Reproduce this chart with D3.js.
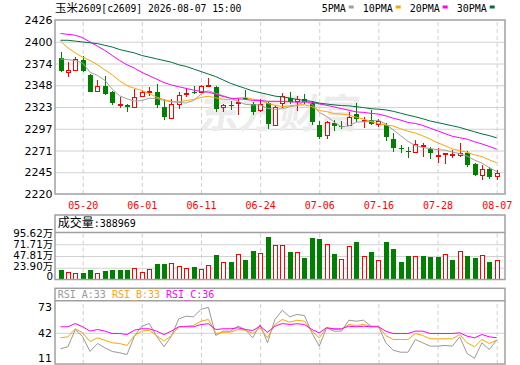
<!DOCTYPE html>
<meta charset="utf-8">
<style>
  body {
    margin: 0;
    background: #fff;
    overflow: hidden;
  }
  .mono {
    font-family: "DejaVu Sans Mono", "Noto Sans CJK SC", monospace;
    font-size: 10px;
  }
  .axis text {
    font-family: "DejaVu Sans", "Noto Sans CJK SC", sans-serif;
    font-size: 11px;
    fill: #000;
  }
  .axis.vol text {
    font-size: 10.3px;
  }
  .axis path, .grid path, .vgrid path {
    display: none;
  }
  .grid line {
    stroke: #d2d2d2;
  }
  .vgrid line {
    stroke: #cfcfcf;
    stroke-dasharray: 4, 3;
  }
  .frame {
    fill: none;
    stroke: #a0a0a0;
    stroke-width: 1.5;
  }
</style>
<body>
</body>
<script src="https://cdn.jsdelivr.net/npm/d3@7"></script>
<script>

// trading days shown on the chart
var dates = ["05-15","05-18","05-19","05-20","05-21","05-22","05-25","05-26","05-27","05-28","05-29",
  "06-01","06-02","06-03","06-04","06-05","06-08","06-09","06-10","06-11","06-12","06-15","06-16","06-17","06-18",
  "06-22","06-23","06-24","06-25","06-26","06-29","06-30",
  "07-01","07-02","07-03","07-06","07-07","07-08","07-09","07-10","07-13","07-14","07-15","07-16","07-17",
  "07-20","07-21","07-22","07-23","07-24","07-27","07-28","07-29","07-30","07-31",
  "08-03","08-04","08-05","08-06","08-07"];

var open  = [2381,2364,2367,2379,2361,2342,2348,2341,2325,2325,2323,2336,2341,2341,2323,2310,2326,2338,2341,2341,
             2348,2347,2323,2325,2328,2334,2327,2320,2328,2302,2328,2334,2330,2332,2328,2302,2290,2304,2301,2302,
             2315,2307,2308,2303,2302,2285,2274,2271,2270,2277,2273,2265,2267,2266,2266,2269,2255,2243,2250,2241];
var high  = [2388,2376,2382,2383,2362,2355,2360,2342,2335,2326,2344,2343,2347,2350,2332,2332,2341,2346,2348,2349,
             2357,2348,2327,2330,2333,2343,2329,2333,2329,2325,2340,2341,2336,2338,2330,2307,2307,2308,2307,2317,
             2328,2311,2319,2309,2304,2292,2278,2276,2284,2280,2276,2275,2269,2272,2280,2271,2257,2254,2252,2249];
var low   = [2364,2359,2366,2365,2341,2341,2337,2325,2322,2317,2322,2335,2336,2322,2308,2309,2321,2335,2338,2340,
             2347,2317,2317,2319,2313,2331,2313,2317,2297,2301,2322,2327,2318,2327,2302,2285,2285,2294,2297,2301,
             2305,2298,2302,2299,2283,2270,2269,2263,2269,2264,2262,2257,2256,2263,2264,2252,2241,2236,2238,2236];
var close = [2366,2367,2380,2366,2341,2348,2338,2328,2326,2323,2335,2341,2342,2325,2311,2327,2337,2339,2339,2348,
             2349,2321,2325,2324,2329,2332,2317,2326,2303,2323,2336,2329,2333,2329,2305,2287,2305,2300,2300,2311,
             2309,2308,2303,2306,2288,2275,2273,2270,2279,2278,2269,2266,2268,2267,2269,2254,2243,2250,2240,2245];

var ma5  = [2380,2379,2378,2375,2364.0,2360.4,2354.6,2344.2,2336.2,2332.6,2330.0,2330.6,2333.4,2333.2,2330.8,
            2329.2,2328.4,2327.8,2330.6,2338.0,2342.4,2339.2,2336.4,2333.4,2329.6,2326.2,2325.4,2325.6,2321.4,2320.2,
            2321.0,2323.4,2324.8,2330.0,2326.4,2316.6,2311.8,2305.2,2299.4,2300.6,2305.0,2305.6,2306.2,2307.4,2302.8,
            2296.0,2289.0,2282.4,2277.0,2275.0,2273.8,2272.4,2272.0,2269.6,2267.8,2264.8,2260.2,2256.6,2251.2,2246.4];
var ma10 = [2401,2393,2387,2382,2378,2373,2367,2361,2354,2348.3,2345.2,2342.6,2338.8,2334.7,2331.7,
            2329.6,2329.5,2330.6,2331.9,2334.4,2335.8,2333.8,2332.1,2332.0,2333.8,2334.3,2332.3,2331.0,2327.4,2324.9,
            2323.6,2324.4,2325.2,2325.7,2323.3,2318.8,2317.6,2315.0,2314.7,2313.5,2310.8,2308.7,2305.7,2303.4,2301.7,
            2300.5,2297.3,2294.3,2292.2,2288.9,2284.9,2280.7,2277.2,2273.3,2271.4,2269.3,2266.3,2264.3,2260.4,2257.1];
var ma20 = [2410,2409,2408,2405,2400,2395,2390,2384,2378,2373,2369,2364,2360,2356,2352,
            2349,2347,2345,2343,2341.4,2340.5,2338.2,2335.5,2333.4,2332.8,2332.0,2330.9,2330.8,2329.7,2329.7,
            2329.7,2329.1,2328.7,2328.9,2328.6,2326.6,2325.0,2323.0,2321.1,2319.2,2317.2,2316.6,2315.5,2314.6,2312.5,
            2309.7,2307.5,2304.7,2303.5,2301.2,2297.9,2294.7,2291.5,2288.4,2286.6,2284.9,2281.8,2279.3,2276.3,2273.0];
var ma30 = [2402,2402,2401,2400,2399,2398,2396,2394,2391,2389,2387,2384,2382,2380,2378,
            2376,2373,2371,2368,2365,2362,2359,2355,2351,2348,2345,2342,2340,2338,2335.9,
            2334.9,2333.6,2332.0,2330.8,2329.6,2327.6,2326.5,2325.5,2324.7,2324.3,2323.4,2322.3,2321.0,2320.4,2319.6,
            2317.9,2315.7,2313.4,2311.4,2309.1,2306.4,2304.6,2302.7,2300.8,2298.8,2296.2,2293.7,2291.2,2289.1,2286.5];

// volume in 万, and whether the bar is drawn as an "up" (red) bar
var volume = [19.9,15.3,13.3,13.3,19.3,13.3,17.3,19.3,19.3,19.3,23.2,15.9,21.2,31.9,31.9,33.2,27.9,23.2,25.9,21.2,
              29.9,49.8,35.2,35.9,51.1,39.8,57.8,53.1,86.3,71.0,71.0,55.8,55.1,44.5,83.7,81.7,73.0,51.8,41.2,67.7,
              75.7,47.8,55.8,39.8,75.7,61.8,35.9,47.8,47.8,47.8,45.8,45.8,51.8,39.8,57.8,47.8,43.8,49.8,35.9,38.8969];
var volUp = [0,1,1,0,0,1,0,0,0,0,1,1,1,0,0,1,1,1,0,1,
             1,0,1,0,1,0,0,1,0,1,1,0,1,0,0,0,1,0,1,1,
             0,1,0,1,0,0,0,0,1,0,0,0,1,0,1,0,0,1,0,1];

var rsiA = [22.6,25.0,46.0,37.1,19.3,29.0,23.8,19.3,17.7,15.6,37.9,50.0,53.3,37.9,25.0,37.9,59.0,62.2,61.4,70.5,
            73.0,38.7,44.0,44.0,50.0,46.0,35.9,52.1,29.8,58.2,69.5,61.4,64.3,63.0,42.0,25.8,48.1,44.0,44.0,57.3,
            56.1,57.3,50.0,50.0,29.8,20.9,18.4,18.4,33.9,29.8,25.8,25.8,26.6,25.8,37.1,16.8,11.0,29.8,21.7,33];
var rsiB = [35.9,37.1,46.9,42.0,31.4,35.9,33.0,29.8,29.0,26.6,38.7,44.0,45.2,38.7,31.8,38.7,49.3,50.0,50.9,56.1,
            58.2,41.1,42.7,42.7,46.0,45.2,41.1,48.1,35.9,52.1,58.2,54.9,57.3,56.1,44.0,35.9,48.1,46.0,46.0,52.1,
            50.9,52.1,50.0,49.3,38.7,33.9,33.9,33.9,41.1,38.7,34.7,34.7,34.7,34.7,39.9,29.8,25.0,33.9,29.0,33];
var rsiC = [49.3,49.3,53.3,49.3,44.0,46.0,44.0,41.1,41.1,39.9,45.2,46.9,46.9,44.0,39.9,44.0,49.3,49.3,49.3,52.1,
            53.0,46.0,46.9,46.9,48.1,46.0,44.8,50.0,42.7,50.0,53.3,52.1,53.0,52.1,46.0,42.0,48.1,46.9,46.9,50.0,
            49.3,50.0,49.3,49.3,44.0,41.1,41.1,41.1,44.0,44.0,41.1,41.1,41.1,41.1,42.0,37.9,35.9,39.9,37.1,36];

var dateTicks = ["05-20","06-01","06-11","06-24","07-06","07-16","07-28","08-07"];
var priceTicks = [2426,2400.25,2374.5,2348.75,2323,2297.25,2271.5,2245.75,2220];
var priceLabels = ["2426","2400","2374","2348","2323","2297","2271","2245","2220"];
var volTicks = [95.62,71.71,47.81,23.90,0];
var volLabels = ["95.62万","71.71万","47.81万","23.90万","0"];
var rsiTicks = [73,42,11];
var legendNames = ["5PMA","10PMA","20PMA","30PMA"];

var colors = {
  up: "#ff0000",
  down: "#008000",
  ma5: "#a0a0a0",
  ma10: "#ffa500",
  ma20: "#ff00ff",
  ma30: "#00703c",
  rsiA: "#999999",
  rsiB: "#ffa500",
  rsiC: "#ff00ff"
};

var width = 520, height = 365,
    left = 55, right = 505;
var pricePanel = {top: 20, bottom: 194},
    volPanel = {top: 215, head: 232.5, bottom: 279.5},
    rsiPanel = {top: 288.3, head: 300.7, bottom: 364};

var svg = d3.select("body").append("svg")
    .attr("width", width)
    .attr("height", height);

var x = d3.scalePoint().domain(dates).range([60.5, 496.7]);
var yPrice = d3.scaleLinear().domain([2220, 2426]).range([pricePanel.bottom, pricePanel.top]);
var yVol = d3.scaleLinear().domain([0, 95.62]).range([volPanel.bottom, volPanel.head]);
var yVolLabel = d3.scaleLinear().domain([0, 95.62]).range([276.7, 233.2]);
var yRsi = d3.scaleLinear().domain([11, 73]).range([358.3, 307.3]);

// grids
function hgrid(scale, ticks) {
  svg.append("g")
      .attr("class", "grid")
      .attr("transform", "translate(" + left + ",0)")
      .call(d3.axisLeft(scale).tickValues(ticks).tickSize(-(right - left)).tickFormat(""));
}
function vgrid(top, bottom) {
  svg.append("g")
      .attr("class", "vgrid")
      .attr("transform", "translate(0," + bottom + ")")
      .call(d3.axisBottom(x).tickValues(dateTicks).tickSize(-(bottom - top)).tickFormat(""));
}

hgrid(yPrice, priceTicks.slice(1, -1));
hgrid(yVol, volTicks.slice(1, -1));
hgrid(yRsi, [42]);
vgrid(pricePanel.top, pricePanel.bottom);
vgrid(volPanel.head, volPanel.bottom);
vgrid(rsiPanel.head, rsiPanel.bottom);

// faint watermark
svg.append("text")
    .attr("x", 200)
    .attr("y", 128)
    .attr("transform", "skewX(-8) translate(16,0)")
    .style("font-family", "Noto Sans CJK SC")
    .style("font-weight", "bold")
    .style("font-size", "40px")
    .style("fill", "#ececec")
    .text("东方财富");

// candles
var data = dates.map(function(d, i) {
  return {date: d, o: open[i], h: high[i], l: low[i], c: close[i]};
});

var candles = svg.append("g")
    .attr("shape-rendering", "crispEdges")
  .selectAll("g")
    .data(data)
  .join("g")
    .each(function(d) {
      var g = d3.select(this),
          cx = Math.round(x(d.date)),
          up = d.c >= d.o,
          col = up ? colors.up : colors.down,
          yt = Math.round(yPrice(Math.max(d.o, d.c))),
          yb = Math.round(yPrice(Math.min(d.o, d.c))),
          yh = Math.round(yPrice(d.h)),
          yl = Math.round(yPrice(d.l));

      if (up) {
        g.append("line").attr("x1", cx + .5).attr("x2", cx + .5).attr("y1", yh).attr("y2", yt).attr("stroke", col);
        g.append("line").attr("x1", cx + .5).attr("x2", cx + .5).attr("y1", yb).attr("y2", yl).attr("stroke", col);
        if (yb - yt < 1) {
          g.append("line").attr("x1", cx - 2).attr("x2", cx + 3).attr("y1", yt + .5).attr("y2", yt + .5).attr("stroke", col);
        } else {
          g.append("rect")
              .attr("x", cx - 1.5).attr("y", yt + .5)
              .attr("width", 4).attr("height", yb - yt)
              .attr("fill", "#fff").attr("stroke", col);
        }
      } else {
        g.append("line").attr("x1", cx + .5).attr("x2", cx + .5).attr("y1", yh).attr("y2", yl).attr("stroke", col);
        g.append("rect")
            .attr("x", cx - 2).attr("y", yt)
            .attr("width", 5).attr("height", Math.max(1, yb - yt))
            .attr("fill", col);
      }
    });

// moving averages
var maLine = d3.line()
    .x(function(d, i) { return x(dates[i]); })
    .y(function(d) { return yPrice(d); });

[["ma5", ma5], ["ma10", ma10], ["ma20", ma20], ["ma30", ma30]].forEach(function(s) {
  svg.append("path")
      .datum(s[1])
      .attr("d", maLine)
      .style("fill", "none")
      .style("stroke", colors[s[0]])
      .style("stroke-width", 1);
});

// volume bars
svg.append("g")
    .attr("shape-rendering", "crispEdges")
  .selectAll("g")
    .data(volume)
  .join("g")
    .each(function(v, i) {
      var g = d3.select(this),
          cx = Math.round(x(dates[i])),
          yt = Math.round(yVol(v)),
          yb = Math.round(yVol(0));
      if (volUp[i]) {
        g.append("rect")
            .attr("x", cx - 1.5).attr("y", yt + .5)
            .attr("width", 4).attr("height", yb - yt - 1)
            .attr("fill", "#fff").attr("stroke", colors.up);
      } else {
        g.append("rect")
            .attr("x", cx - 2).attr("y", yt)
            .attr("width", 5).attr("height", yb - yt)
            .attr("fill", colors.down);
      }
    });

// RSI lines
var rsiLine = d3.line()
    .x(function(d, i) { return x(dates[i]); })
    .y(function(d) { return yRsi(d); });

[["rsiA", rsiA], ["rsiB", rsiB], ["rsiC", rsiC]].forEach(function(s) {
  svg.append("path")
      .datum(s[1])
      .attr("d", rsiLine)
      .style("fill", "none")
      .style("stroke", colors[s[0]])
      .style("stroke-width", 1);
});

// axes
svg.append("g")
    .attr("class", "axis")
    .attr("transform", "translate(" + left + ",0)")
    .call(d3.axisLeft(yPrice).tickValues(priceTicks).tickSize(0).tickPadding(2.5)
      .tickFormat(function(d, i) { return priceLabels[i]; }));

svg.append("g")
    .attr("class", "axis vol")
    .attr("transform", "translate(" + left + ",0)")
    .call(d3.axisLeft(yVolLabel).tickValues(volTicks).tickSize(0).tickPadding(2)
      .tickFormat(function(d, i) { return volLabels[i]; }));

svg.append("g")
    .attr("class", "axis")
    .attr("transform", "translate(" + left + ",0)")
    .call(d3.axisLeft(yRsi).tickValues(rsiTicks).tickSize(0).tickPadding(3)
      .tickFormat(d3.format("d")));

var dateAxis = svg.append("g")
    .attr("class", "axis")
    .attr("transform", "translate(0," + pricePanel.bottom + ")")
    .call(d3.axisBottom(x).tickValues(dateTicks).tickSize(0).tickPadding(7.4));
dateAxis.selectAll("text")
    .attr("class", "mono")
    .style("font-family", "DejaVu Sans Mono")
    .style("font-size", "10px")
    .style("fill", colors.up);

// frames
svg.append("rect").attr("class", "frame")
    .attr("x", left).attr("y", pricePanel.top)
    .attr("width", right - left).attr("height", pricePanel.bottom - pricePanel.top);
[volPanel, rsiPanel].forEach(function(p) {
  svg.append("rect").attr("class", "frame")
      .attr("x", left).attr("y", p.top)
      .attr("width", right - left).attr("height", p.bottom - p.top);
  svg.append("line").attr("class", "frame")
      .attr("x1", left).attr("x2", right)
      .attr("y1", p.head).attr("y2", p.head);
});

// title
var title = svg.append("text")
    .attr("class", "mono")
    .attr("x", 55)
    .attr("y", 12)
    .style("font-size", "9.7px");
title.append("tspan").style("font-family", "Noto Sans CJK SC").style("font-size", "11.5px").text("玉米");
title.append("tspan").text("2609[c2609] 2026-08-07 15:00");

// legend
var lx = 321.7;
legendNames.forEach(function(name, i) {
  var key = ["ma5", "ma10", "ma20", "ma30"][i];
  svg.append("text")
      .attr("class", "mono")
      .attr("x", lx)
      .attr("y", 11.5)
      .text(name);
  var sx = lx + name.length * 6 + 3;
  svg.append("rect")
      .attr("x", sx).attr("y", 5.5)
      .attr("width", 5).attr("height", 3)
      .attr("fill", colors[key]);
  lx = sx + 14;
});

// volume header
var volHead = svg.append("text")
    .attr("class", "mono")
    .attr("x", 57.7)
    .attr("y", 226.5);
volHead.append("tspan").style("font-family", "Noto Sans CJK SC").style("font-size", "12px").text("成交量");
volHead.append("tspan").text(":" + d3.format("d")(Math.round(volume[volume.length - 1] * 10000)));

// RSI header
var rsiHead = svg.append("text")
    .attr("class", "mono")
    .attr("x", 57.7)
    .attr("y", 298);
[["RSI_A:", rsiA, colors.rsiA], ["RSI_B:", rsiB, colors.rsiB], ["RSI_C:", rsiC, colors.rsiC]].forEach(function(s, i) {
  rsiHead.append("tspan")
      .style("fill", s[2])
      .text((i ? " " : "") + s[0] + Math.round(s[1][s[1].length - 1]));
});

</script>
